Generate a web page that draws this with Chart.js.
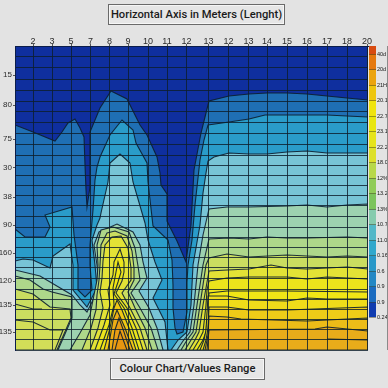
<!DOCTYPE html>
<html>
<head>
<meta charset="utf-8">
<script src="https://cdn.jsdelivr.net/npm/chart.js@4"></script>
<style>
  html, body { margin: 0; padding: 0; width: 388px; height: 388px; overflow: hidden; background: #e3e3e3; }
  canvas { position: absolute; left: 0; top: 0; }
  .caption {
    position: absolute; box-sizing: border-box; text-align: center;
    font: 500 11.2px Roboto, "Liberation Sans", sans-serif; color: #1b1b1b;
    background: #e6e6e6; border: 1px solid #6a6a6a; box-shadow: inset 0 0 0 1px #f6f6f6;
  }
  #topCaption { left: 108px; top: 4px; width: 177px; height: 21px; line-height: 19px; }
  #bottomCaption { left: 110px; top: 358px; width: 155px; height: 22px; line-height: 20px; }
  #edge { position: absolute; left: 387px; top: 46px; width: 1px; height: 304px; background: #8a8a8a; }
</style>
</head>
<body>
<canvas id="contourChart" width="388" height="388"></canvas>
<canvas id="scaleChart" width="388" height="388"></canvas>
<div id="edge"></div>
<div class="caption" id="topCaption">Horizontal Axis in Meters (Lenght)</div>
<div class="caption" id="bottomCaption">Colour Chart/Values Range</div>
<script>
const xLabels = ["2", "3", "5", "7", "8", "9", "10", "11", "12", "13", "12", "13", "14", "15", "16", "17", "18", "20"];
const xPositions = [18, 37, 56, 75.5, 94.5, 113, 133, 152, 171.5, 193.5, 213.5, 233.5, 252, 272, 292, 312, 332, 352];
const yLabels = ["15", "80", "75", "30", "38", "90", "160", "120", "135", "135"];
const yPositions = [29, 59, 93, 121.5, 151, 179, 207, 235, 259, 286];
const yRows = [10.7, 21.7, 33, 44, 55, 65.7, 76.7, 87.3, 98.3, 109, 119, 129, 139, 149, 159, 170, 181, 191, 201, 211, 221, 232, 243, 253, 263, 273, 283, 293, 304];

const scaleLabels = ["40d", "20d", "21H", "20.1", "22.7", "23.1", "22.2", "18.0", "12%", "13.2", "13%", "10.7", "11.0", "0.16", "0.6", "0.9", "0.9", "0.24"];
const scaleStops = [0, 8, 23.5, 39, 54.5, 70, 85.5, 101, 116.5, 132, 147.5, 163, 178.5, 194, 209.5, 225, 240.5, 256, 271];
const scaleColours = ["#d84c12", "#e5790f", "#eba40f", "#eec60f", "#f0e40e", "#e9e60e", "#e6e41a", "#dde02a", "#b8d84a", "#90cc58", "#7cc45c", "#86cbae", "#52b8c8", "#30a8cc", "#2898c8", "#2488c4", "#1c6cc0", "#103cb0"];

// contour outlines: [distance, depth]
const navyField = [[0, 0], [353, 0], [353, 304], [0, 304]];
const level1 = [[0, 79], [18, 86], [40, 95], [47, 86], [53, 77], [60, 73], [65, 82], [69, 91], [70, 119], [71, 144], [72, 161], [75, 141], [75, 86], [85, 62], [96, 45], [112, 53], [125, 79], [132, 89], [142, 111], [145, 127], [146, 139], [152, 148], [152, 175], [162, 195], [171, 216], [176, 179], [179, 124], [186, 87], [191, 67], [194, 55], [214, 50], [234, 48], [252, 47], [272, 47], [292, 48], [312, 50], [332, 52], [353, 54], [353, 304], [0, 304]];
const level2 = [[0, 183], [10, 191], [30, 191], [35, 181], [30, 169], [57, 161], [59, 189], [63, 219], [63, 244], [70, 251], [77, 244], [75, 219], [75, 199], [78, 164], [80, 134], [82, 121], [85, 111], [95, 89], [107, 74], [118, 84], [121, 97], [132, 117], [133, 136], [138, 180], [153, 194], [157, 214], [158, 239], [158, 262], [160, 282], [162, 288], [168, 286], [172, 266], [172, 236], [173, 219], [177, 194], [180, 159], [182, 141], [185, 114], [189, 94], [193, 79], [214, 76], [234, 73], [250, 69], [272, 69], [292, 69], [312, 69], [332, 70], [353, 71], [353, 304], [0, 304]];
const level3 = [[0, 215], [8, 213], [18, 214], [35, 222], [38, 210], [55, 198], [58, 219], [58, 244], [72, 261], [82, 242], [80, 219], [77, 194], [82, 179], [85, 172], [86, 167], [93, 136], [95, 117], [105, 108], [115, 117], [118, 136], [130, 177], [133, 194], [140, 216], [147, 234], [138, 252], [150, 276], [153, 304], [0, 304]];
const level3Right = [[156, 304], [163, 294], [172, 286], [176, 259], [178, 219], [185, 179], [188, 147], [191, 127], [193, 115], [199, 111], [214, 107], [234, 108], [252, 108], [272, 106], [292, 105], [312, 107], [332, 107], [353, 107], [353, 304]];
const level4 = [[0, 224], [25, 230], [57, 249], [65, 259], [72, 266], [84, 242], [82, 219], [79, 199], [84, 186], [102, 178], [118, 186], [125, 199], [128, 216], [132, 232], [124, 245], [134, 262], [142, 282], [148, 304], [0, 304]];
const level4Right = [[162, 304], [168, 295], [175, 286], [179, 259], [183, 219], [188, 189], [194, 163], [212, 161], [234, 161], [272, 160], [292, 159], [312, 161], [332, 159], [353, 158], [353, 304]];
const level5Left = [[0, 230], [15, 234], [28, 243], [37, 246], [57, 251], [57, 272], [43, 304], [0, 304]];
const level5 = [[55, 304], [65, 287], [75, 269], [79, 249], [82, 234], [83, 219], [82, 199], [86, 184], [98, 181], [114, 186], [120, 202], [123, 220], [125, 234], [116, 247], [125, 262], [136, 282], [143, 304]];
const level5Right = [[166, 304], [172, 294], [178, 286], [182, 259], [188, 219], [194, 193], [214, 192], [234, 193], [252, 191], [272, 192], [292, 192], [332, 191], [353, 192], [353, 304]];
const level6Left = [[0, 243], [18, 248], [35, 261], [55, 263], [56, 272], [42, 304], [0, 304]];
const level6 = [[67, 304], [76, 282], [81, 264], [82, 249], [84, 234], [85, 219], [86, 199], [92, 187], [100, 185], [112, 190], [117, 205], [119, 222], [119, 234], [113, 246], [120, 262], [130, 282], [137, 304]];
const level6Right = [[170, 304], [176, 294], [181, 286], [185, 259], [191, 219], [194, 212], [212, 208], [234, 211], [272, 209], [292, 210], [312, 211], [332, 210], [353, 211], [353, 304]];
const level7Left = [[0, 274], [18, 276], [35, 284], [48, 284], [40, 304], [0, 304]];
const level7 = [[75, 304], [83, 282], [88, 262], [85, 246], [87, 232], [88, 215], [90, 199], [97, 191], [106, 190], [113, 202], [116, 222], [116, 234], [107, 247], [115, 262], [125, 282], [132, 304]];
const level7Right = [[174, 304], [180, 294], [184, 286], [188, 259], [194, 225], [212, 224], [234, 223], [256, 219], [272, 222], [292, 223], [312, 222], [332, 221], [353, 223], [353, 304]];
const level8 = [[80, 304], [89, 279], [95, 259], [93, 244], [98, 229], [99, 216], [105, 203], [109, 216], [109, 226], [107, 235], [101, 247], [112, 262], [121, 282], [128, 304]];
const level8Right = [[178, 304], [184, 294], [188, 286], [191, 259], [192, 244], [194, 235], [212, 232], [234, 231], [272, 231], [292, 233], [312, 231], [332, 232], [353, 233], [353, 304]];
const level9 = [[85, 304], [94, 279], [99, 259], [98, 242], [101, 226], [103, 216], [106, 226], [103, 236], [99, 248], [109, 262], [117, 282], [124, 304]];
const level9Right = [[182, 304], [188, 294], [191, 286], [194, 247], [212, 245], [272, 245], [353, 246], [353, 304]];
const level10 = [[89, 304], [95, 282], [99, 262], [102, 254], [107, 264], [114, 282], [121, 304]];
const level10Right = [[185, 304], [189, 294], [191, 284], [193, 250], [212, 250], [234, 254], [272, 255], [292, 252], [312, 253], [353, 253], [353, 304]];
const level11 = [[93, 304], [98, 274], [102, 264], [110, 282], [118, 304]];
const level11Right = [[188, 304], [191, 294], [193, 282], [194, 261], [212, 261], [234, 264], [272, 264], [353, 261], [353, 304]];
const level12 = [[97, 304], [100, 284], [104, 272], [109, 286], [115, 304]];
const level12Right = [[190, 304], [193, 289], [194, 270], [212, 271], [226, 273], [292, 275], [312, 274], [353, 272], [353, 304]];
const level13 = [[100, 304], [105, 285], [112, 304]];
const level13Right = [[192, 304], [194, 284], [300, 283], [312, 281], [353, 285], [353, 304]];
const openLine1 = [[0, 258], [18, 263], [27, 263]];
const openLine2 = [[312, 293], [353, 294]];

const contourColours = {
  navy: "#0f2f9e", blue: "#1f6fb4", teal: "#2a9cc9", cyan: "#78c4d6", foam: "#9dd2b0", green: "#aed78a",
  lime: "#cadd60", yellow: "#e3e236", bright: "#ece41c", sun: "#f0e616", gold: "#efdc1a", amber: "#eecc18",
  deep: "#ecbc18", orange: "#e8ac1a", centre10: "#f0c814", centre11: "#eead14", centre12: "#ea9e14", centre13: "#e79510"
};

const surfaces = [
  [navyField, contourColours.navy],
  [level1, contourColours.blue],
  [level2, contourColours.teal],
  [level3, contourColours.cyan], [level3Right, contourColours.cyan],
  [level4, contourColours.foam], [level4Right, contourColours.foam],
  [level5Left, contourColours.green], [level5, contourColours.green], [level5Right, contourColours.green],
  [level6Left, contourColours.lime], [level6, contourColours.lime], [level6Right, contourColours.lime],
  [level7Left, "#d2de58"], [level7, contourColours.yellow], [level7Right, contourColours.yellow],
  [level8, contourColours.bright], [level8Right, contourColours.bright],
  [level9, contourColours.sun], [level9Right, contourColours.sun],
  [level10, contourColours.centre10], [level10Right, contourColours.gold],
  [level11, contourColours.centre11], [level11Right, contourColours.amber],
  [level12, contourColours.centre12], [level12Right, contourColours.deep],
  [level13, contourColours.centre13], [level13Right, contourColours.orange]
];

const toPoints = list => list.map(p => ({ x: p[0], y: p[1] }));

// later surfaces paint over earlier ones, chart.js draws the first dataset last
const datasets = surfaces.map(([outline, colour], i) => ({
  data: toPoints(outline.concat([outline[0]])),
  surfaceColour: colour,
  showLine: true,
  borderColor: "rgba(12, 30, 48, 0.9)",
  borderWidth: 1.1,
  pointRadius: 0,
  order: surfaces.length + 2 - i
}));
[openLine1, openLine2].forEach(line => {
  datasets.push({ data: toPoints(line), showLine: true, borderColor: "rgba(12, 30, 48, 0.9)", borderWidth: 1.1, pointRadius: 0, order: 0 });
});

const surfaceFill = {
  id: "surfaceFill",
  beforeDatasetDraw(chart, args) {
    const colour = chart.data.datasets[args.index].surfaceColour;
    if (!colour) return;
    const ctx = chart.ctx;
    const points = chart.getDatasetMeta(args.index).data;
    ctx.save();
    ctx.beginPath();
    points.forEach((p, i) => (i ? ctx.lineTo(p.x, p.y) : ctx.moveTo(p.x, p.y)));
    ctx.closePath();
    ctx.fillStyle = colour;
    ctx.fill();
    ctx.restore();
  }
};

const gridColour = "rgba(14, 30, 44, 0.82)";

new Chart(document.getElementById("contourChart"), {
  type: "scatter",
  data: { datasets },
  plugins: [surfaceFill],
  options: {
    responsive: false,
    animation: false,
    layout: { padding: { right: 20, bottom: 38 } },
    plugins: { legend: { display: false }, tooltip: { enabled: false } },
    scales: {
      x: {
        type: "linear",
        position: "top",
        min: 0,
        max: 353,
        afterBuildTicks: scale => { scale.ticks = xPositions.map(value => ({ value })); },
        afterFit: scale => { scale.height = 46; },
        grid: { z: 1, color: gridColour, lineWidth: 1, tickLength: 2, tickColor: "#555" },
        border: { display: true, color: "#0b1d4a", z: 1 },
        ticks: {
          autoSkip: false, maxRotation: 0, padding: -3, color: "#2c2c2c",
          font: { family: "'Liberation Sans'", size: 9 },
          callback: value => xLabels[xPositions.indexOf(value)]
        }
      },
      y: {
        type: "linear",
        reverse: true,
        min: 0,
        max: 304,
        afterBuildTicks: scale => { scale.ticks = yRows.concat(yPositions).map(value => ({ value })); },
        afterFit: scale => { scale.width = 15; },
        grid: {
          z: 1, lineWidth: 1, tickLength: 2,
          color: c => (yPositions.includes(c.tick.value) ? "transparent" : gridColour),
          tickColor: c => (yPositions.includes(c.tick.value) ? "#555" : "transparent")
        },
        border: { display: true, color: "#0b1d4a", z: 1 },
        ticks: {
          autoSkip: false, padding: 1, color: "#2c2c2c",
          font: { family: "'Liberation Sans'", size: 8 },
          callback: value => { const i = yPositions.indexOf(value); return i < 0 ? "" : yLabels[i]; }
        }
      }
    }
  }
});

// colour bar on the right
const scaleCanvas = document.getElementById("scaleChart");
scaleCanvas.style.left = "368px";
scaleCanvas.width = 20;

new Chart(scaleCanvas, {
  type: "bar",
  data: {
    labels: [""],
    datasets: scaleColours.map((colour, i) => ({
      data: [[scaleStops[i], scaleStops[i + 1]]],
      backgroundColor: colour,
      barPercentage: 1,
      categoryPercentage: 1,
      grouped: false
    }))
  },
  options: {
    responsive: false,
    animation: false,
    layout: { padding: { left: 1, top: 46, bottom: 71 } },
    plugins: { legend: { display: false }, tooltip: { enabled: false } },
    scales: {
      x: { display: false },
      y: {
        position: "right",
        reverse: true,
        min: 0,
        max: 271,
        afterBuildTicks: scale => { scale.ticks = scaleStops.slice(1).map(value => ({ value })); },
        afterFit: scale => { scale.width = 12; },
        grid: { z: 1, color: "rgba(50, 50, 20, 0.45)", drawTicks: false },
        border: { display: false },
        ticks: {
          autoSkip: false, padding: 1, color: "#111",
          font: { family: "'Liberation Sans'", size: 5.5 },
          callback: value => scaleLabels[scaleStops.indexOf(value) - 1]
        }
      }
    }
  }
});
</script>
</body>
</html>
